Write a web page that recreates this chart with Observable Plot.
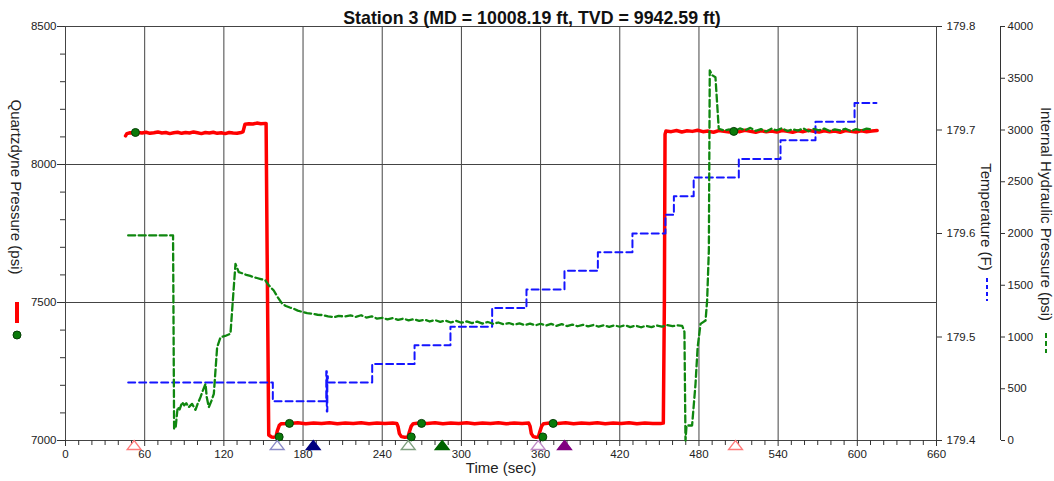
<!DOCTYPE html>
<html><head><meta charset="utf-8">
<script src="https://cdn.jsdelivr.net/npm/d3@7"></script>
<script src="https://cdn.jsdelivr.net/npm/@observablehq/plot@0.6"></script>
<style>body{margin:0;background:#fff;} svg{display:block}</style>
</head><body><div id="chart"></div>
<script>
const titleText = "Station 3 (MD = 10008.19 ft, TVD = 9942.59 ft)";
const xLabel = "Time (sec)";
const yLabel = "Quartzdyne Pressure (psi)";
const tempLabel = "Temperature (F)";
const hydLabel = "Internal Hydraulic Pressure (psi)";

const xTicks = [0,60,120,180,240,300,360,420,480,540,600,660];
const xMinor = [10,20,30,40,50,70,80,90,100,110,130,140,150,160,170,190,200,210,220,230,250,260,270,280,290,310,320,330,340,350,370,380,390,400,410,430,440,450,460,470,490,500,510,520,530,550,560,570,580,590,610,620,630,640,650];
const pTicks = [7000,7500,8000,8500];
const pMinor = [7100,7200,7300,7400,7600,7700,7800,7900,8100,8200,8300,8400];
const tempTicks = [179.4,179.5,179.6,179.7,179.8];
const hydTicks = [0,500,1000,1500,2000,2500,3000,3500,4000];

// Quartzdyne pressure (psi)
const pressTime = [45.5,46.5,49,52,55,58,61,64,67,70,73,76,79,82,85,88,91,94,97,100,103,106,109,112,115,118,121,124,127,130,133,134.5,136,139,142,145,148,151.5,152,153,154,156,158,159.5,160.5,162,163.5,
170,176,182,188,194,200,206,212,218,224,230,236,242,248,251,
252,253,254.5,257,259.5,260.5,262,263.5,
268,274,280,286,292,298,304,310,316,322,328,334,340,346,351,
352,353,354.5,356.5,358.3,359.3,360.8,362.3,
367,373,379,385,391,397,403,409,415,421,427,433,439,445,451,453,
453.8,454.3,455,
459,463,467,471,475,479,483,487,491,495,499,503,507,511,515,519,523,527,531,535,539,543,547,551,555,559,563,567,571,575,579,583,587,591,595,599,603,607,611,615];
const pressVal = [8104,8112,8115,8113,8116,8114,8117,8113,8115,8118,8114,8116,8112,8115,8117,8113,8116,8114,8118,8115,8112,8116,8114,8117,8113,8115,8112,8116,8114,8113,8116,8118,8146,8148,8147,8150,8148,8149,8149,7560,7020,7013,7012,7014,7035,7055,7061,
7062,7064,7061,7063,7062,7064,7061,7063,7062,7064,7061,7063,7062,7063,7062,
7050,7025,7014,7012,7013,7030,7052,7061,
7063,7062,7064,7061,7063,7062,7064,7061,7063,7062,7064,7061,7063,7062,7063,
7052,7025,7014,7012,7013,7030,7052,7061,
7063,7062,7064,7061,7063,7062,7064,7061,7063,7062,7064,7061,7063,7062,7062,7063,
7500,8110,8121,
8119,8123,8118,8122,8120,8124,8119,8121,8117,8123,8120,8118,8122,8119,8124,8120,8117,8122,8119,8121,8118,8123,8120,8117,8122,8119,8124,8120,8118,8122,8119,8121,8117,8123,8120,8118,8122,8119,8121,8123];

// Marked points on the pressure trace
const dotTime = [53,161.9,169.7,262,269.8,361.7,369.5,506.4];
const dotVal = [8116,7013,7062,7013,7062,7013,7062,8120];

// Temperature (F), step changes
const tempTime = [47.5,157.1,197.6,198.0,198.4,198.8,232.4,264.5,291.7,323.3,349.3,378.1,403.4,429.6,454.6,461,476,510.2,541.8,568.3,597.9,614.5];
const tempVal = [179.456,179.438,179.467,179.428,179.462,179.456,179.474,179.492,179.510,179.528,179.546,179.564,179.582,179.600,179.618,179.636,179.654,179.672,179.690,179.708,179.726,179.726];

// Internal hydraulic pressure (psi)
const hydTime = [47.5,81.5,82.3,83.4,85,86.5,88.4,90,91.5,93.4,95.9,98.5,100,102.3,104,106.1,107,108.6,110.5,112.4,114.9,117.5,121,125,126.8,128.8,131.3,134,137,140,142.7,145,148,151.5,154,157.8,161,164.2,167,170,173,176,180,183.1,187,191,195,199,203.3,207,211,216,
220,224,228,232,236,240,244,248,252,256,260,264,268,272,276,280,284,288,292,296,300,304,308,312,316,320,324,328,332,336,340,344,348,352,356,360,364,368,372,376,380,384,388,392,396,400,404,408,412,416,420,424,428,432,436,440,444,448,452,456,460,464,467.3,
469,469.8,470.6,474.8,477.4,479,481.2,485,486.2,487.5,488.2,490,492.5,495,
499,503,507,511,515,519,523,527,531,535,539,543,547,551,555,559,563,567,571,575,579,583,587,591,595,599,603,607,612];
const hydVal = [1981,1981,113,116,322,300,370,340,360,322,354,296,350,419,480,548,420,322,380,451,901,998,1010,1031,1353,1707,1626,1615,1600,1590,1578,1570,1560,1546,1500,1449,1380,1321,1300,1285,1272,1255,1240,1230,1225,1215,1212,1200,1191,1205,1198,1208,
1195,1210,1188,1200,1178,1185,1170,1182,1165,1178,1160,1172,1155,1168,1150,1163,1147,1158,1140,1156,1138,1150,1135,1148,1130,1145,1128,1140,1122,1135,1118,1132,1115,1130,1112,1128,1110,1126,1108,1124,1106,1120,1104,1118,1102,1116,1100,1114,1098,1112,1099,1113,1096,1110,1094,1108,1096,1112,1100,1114,1104,1112,1108,
1050,0,145,145,548,900,1127,1159,1353,1836,3575,3530,3510,3012,
2995,3005,2990,3015,2998,3020,2992,3008,2985,3012,2996,3018,2990,3006,2994,3016,2988,3010,2997,3014,2991,3007,2995,3012,2989,3009,2996,3013,3005];

// Event markers on the time axis
const markerTime = [52,160.4,187.7,259.7,285.4,358.2,378.1,507.7];
const markerColor = ["#ff7a7a","#8a8ac8","#000080","#7fa07f","#006400","#c08ac8","#800080","#ff7a7a"];
const markerFilled = [false,false,true,false,true,false,true,false];

// secondary scales mapped onto the primary pressure axis
const P0 = 7000, P1 = 8500, T0 = 179.4, T1 = 179.8, H0 = 0, H1 = 4000;
const tempToP = t => P0 + (t - T0) / (T1 - T0) * (P1 - P0);
const pToTemp = p => T0 + (p - P0) / (P1 - P0) * (T1 - T0);
const hydToP = h => P0 + (h - H0) / (H1 - H0) * (P1 - P0);
const pToHyd = p => H0 + (p - P0) / (P1 - P0) * (H1 - H0);

const press = pressTime.map((t, i) => ({t, v: pressVal[i]}));
const dots = dotTime.map((t, i) => ({t, v: dotVal[i]}));
const temp = tempTime.map((t, i) => ({t, v: tempToP(tempVal[i])}));
const hyd = hydTime.map((t, i) => ({t, v: hydToP(hydVal[i])}));
const markers = markerTime.map((t, i) => ({t, c: markerColor[i], f: markerFilled[i] ? markerColor[i] : "white"}));

const triSymbol = {draw(ctx) { ctx.moveTo(0, -4.5); ctx.lineTo(7, 4.5); ctx.lineTo(-7, 4.5); ctx.closePath(); }};

const axisColor = "#333";
const font = "'Liberation Sans', Arial, sans-serif";

const chart = Plot.plot({
  width: 1054, height: 481,
  marginLeft: 65, marginRight: 118, marginTop: 26, marginBottom: 41,
  x: {domain: [0, 660], label: null},
  y: {domain: [P0, P1], label: null},
  style: {fontFamily: font, fontSize: "11.5px", color: "#222", background: "#fff", overflow: "visible"},
  marks: [
    Plot.ruleX(xTicks.slice(1, -1), {stroke: "#444", strokeWidth: 1}),
    Plot.ruleY([7500, 8000], {stroke: "#444", strokeWidth: 1}),
    Plot.frame({stroke: "#444"}),
    Plot.axisX(xTicks, {tickSize: 6, tickPadding: 3, stroke: axisColor, fill: "#222", tickFormat: d => String(d), label: null}),
    Plot.axisX(xMinor, {tickSize: 5, stroke: axisColor, tickFormat: () => "", label: null}),
    Plot.axisY(pTicks, {anchor: "left", tickSize: 8, tickPadding: 1, stroke: axisColor, fill: "#222", tickFormat: d => String(d), label: null}),
    Plot.axisY(pMinor, {anchor: "left", tickSize: 5, stroke: axisColor, tickFormat: () => "", label: null}),
    Plot.axisY(tempTicks.map(tempToP), {anchor: "right", tickSize: 5, tickPadding: 5, stroke: axisColor, fill: "#222", tickFormat: p => pToTemp(p).toFixed(1), label: null}),
    Plot.axisY(hydTicks.map(hydToP), {anchor: "right", dx: 64, tickSize: 4, tickPadding: 3, stroke: axisColor, fill: "#222", tickFormat: p => String(Math.round(pToHyd(p))), label: null}),
    Plot.ruleX([660], {dx: 64, stroke: axisColor, clip: false}),
    Plot.line(press, {x: "t", y: "v", stroke: "#ff0000", strokeWidth: 3.5, strokeLinejoin: "round"}),
    Plot.line(temp, {x: "t", y: "v", curve: "step-after", stroke: "#1515ff", strokeWidth: 2, strokeDasharray: "7,4"}),
    Plot.line(hyd, {x: "t", y: "v", stroke: "#0f870f", strokeWidth: 2.3, strokeDasharray: "7,3.5"}),
    Plot.dot(dots, {x: "t", y: "v", r: 4, fill: "#0a7a0a", stroke: "#063f06", strokeWidth: 1}),
    Plot.dot(markers, {x: "t", frameAnchor: "bottom", dy: 4.5, symbol: triSymbol, r: 5, fill: "f", stroke: "c", strokeWidth: 1.3, clip: false}),
    Plot.text([titleText], {frameAnchor: "top", dx: 31, dy: -15, fontSize: 17.8, fontWeight: "bold", fill: "#111"}),
    Plot.text([xLabel], {frameAnchor: "bottom", dy: 32, fontSize: 15, fill: "#222"})
  ]
});
document.getElementById("chart").appendChild(chart);

// rotated axis titles and legend glyphs beside them
const svg = d3.select(chart);
const g = svg.append("g").attr("font-family", font).attr("font-size", 15).attr("fill", "#222");
[[yLabel, 16, 187], [tempLabel, 986, 217], [hydLabel, 1046, 214]].forEach(([s, x, y]) => {
  g.append("text").attr("transform", `translate(${x},${y}) rotate(90)`)
    .attr("text-anchor", "middle").attr("dy", "0.35em").text(s);
});
g.append("line").attr("x1", 17).attr("x2", 17).attr("y1", 302).attr("y2", 323).attr("stroke", "#ff0000").attr("stroke-width", 4);
g.append("circle").attr("cx", 17).attr("cy", 335).attr("r", 4).attr("fill", "#0a7a0a").attr("stroke", "#063f06");
g.append("line").attr("x1", 987).attr("x2", 987).attr("y1", 278).attr("y2", 301).attr("stroke", "#1515ff").attr("stroke-width", 2).attr("stroke-dasharray", "4,3");
g.append("line").attr("x1", 1046).attr("x2", 1046).attr("y1", 333).attr("y2", 353).attr("stroke", "#0f870f").attr("stroke-width", 2).attr("stroke-dasharray", "5,3");
</script>
</body></html>
